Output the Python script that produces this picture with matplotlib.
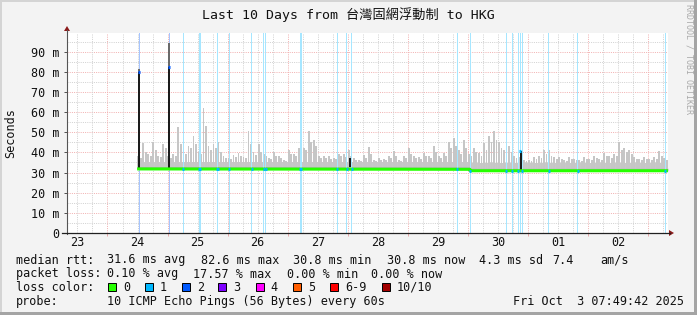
import numpy as np
import matplotlib
matplotlib.use("Agg")
import matplotlib.pyplot as plt
from matplotlib.patches import Rectangle, Polygon
from matplotlib.lines import Line2D
from matplotlib.colors import to_rgb

plt.rcParams['font.family'] = ['DejaVu Sans Mono', 'Noto Sans CJK TC']

# time axis: hours after Tue Sep 23 07:49:42 2025 (10 day window)
day_labels = ["23", "24", "25", "26", "27", "28", "29", "30", "01", "02"]
noon_first = 4.17        # Sep 23 12:00
midnight_first = 16.17   # Sep 24 00:00
window_hours = 240
y_top = 99.5

y_ticks = [0, 10, 20, 30, 40, 50, 60, 70, 80, 90]
y_labels = ["0", "10 m", "20 m", "30 m", "40 m", "50 m", "60 m", "70 m", "80 m", "90 m"]

# smoke per 2 hour bin starting at hour 28, ms: highest and second highest spike
smoke_start = 28.0
smoke_peak = [38, 44.6, 39, 45, 38, 44, 38, 39, 52.8, 40, 43, 47.9, 40, 62, 43, 44,
              45, 38, 37, 38.5, 39.6, 37.5, 50.4, 40, 44, 39, 37, 40, 38, 36, 41,
              39, 42, 42, 50.4, 46, 38, 38, 38, 37, 39, 39, 41, 37, 36, 38.5,
              42.5, 36, 37, 36.5, 38, 40.5, 36, 38, 42, 38, 37.5, 39.6, 38, 43, 38,
              39.6, 45, 47, 41, 46, 39, 42, 39.6, 44.6, 48, 50.4, 45.4, 41, 43, 38,
              37.5, 36, 36, 37.5, 38, 41, 41, 37.5, 37.5, 36, 37.5, 36.5, 36, 37.5,
              36.5, 38, 36.5, 39.6, 38, 39, 45.4, 42, 41, 37.5, 36.5, 37.5, 36.5,
              37.5, 40.5, 37]
smoke_second = [37, 40, 38, 41, 37.5, 42, 37, 38, 44, 39, 42, 44, 39, 53, 41, 42,
                40, 37, 36.5, 37.5, 38, 37, 44, 38.5, 40, 38, 36.5, 38, 37, 35.5,
                39, 38, 40, 41, 45, 43, 37, 37, 36.5, 36.5, 38, 37.5, 38, 36, 35.5, 37,
                39, 35.5, 36, 36, 37, 38, 35.5, 37, 39, 37, 36.5, 38, 37, 40, 37,
                38, 42, 43, 39, 42, 38, 40, 38, 41, 45, 46, 42, 39, 40, 37,
                36.5, 35.5, 35.5, 36.5, 37, 39, 38, 36.5, 36.5, 35.5, 36.5, 36, 35.5,
                36.5, 36, 37, 36, 38, 37, 38, 41, 40, 39, 36.5, 36, 36.5, 36, 36.5,
                38, 36]
# solid part of the smoke, per day (Sep 24 .. Oct 3), ms
smoke_body = [35.2, 35.2, 35.0, 35.0, 35.0, 35.0, 34.5, 34.5, 34.5, 34.5]

# median rtt, ms
median_hours = [28, 100, 160.9, 161.1, 240]
median_ms = [31.8, 31.7, 31.6, 30.9, 30.9]

# lost pings (of 10)
loss_hours = [28.9, 40.85, 46.45, 52.9, 53.3, 60.1, 64.8, 73.7, 78.5, 79.3, 93.05,
              93.45, 108.0, 111.8, 113.7, 155.9, 161.1, 175.5, 177.8, 180.2, 180.9,
              181.8, 192.4, 204.0, 238.9]
loss_count = [2, 2, 1, 1, 1, 1, 1, 1, 1, 1, 1, 1, 1, 1, 1, 1, 1, 1, 1, 1, 1, 1, 1, 1, 1]

# dense dark smoke columns
dark_hours = [28.65, 40.65, 113.1, 181.1]
dark_low = [31.5, 31.5, 33.0, 31.0]
dark_high = [80.0, 82.6, 37.0, 40.5]
dark_top = [81.5, 94.5, 37.0, 40.5]

loss_labels = ["0", "1", "2", "3", "4", "5", "6-9", "10/10"]
loss_colors = ["#26ff00", "#00b8ff", "#0059ff", "#7e00ff", "#ff00ff",
               "#ff5e00", "#ff0000", "#a10000"]

stats_rtt = ["median rtt:", "31.6 ms avg", "82.6 ms max", "30.8 ms min",
             "30.8 ms now", "4.3 ms sd", "7.4", "am/s"]
stats_loss = ["packet loss:", "0.10 % avg", "17.57 % max", "0.00 % min", "0.00 % now"]

W, H = 697, 315


def fx(x):
    return x / W


def fy(y):
    return 1 - y / H


def light(c, a=0.35):
    r = np.array(to_rgb(c))
    return tuple(a * r + (1 - a))


fig = plt.figure(figsize=(W / 100, H / 100), dpi=100)
fig.patch.set_facecolor('#f3f3f3')
ax = fig.add_axes([fx(67), fy(233), 601 / W, 200.5 / H])
ax.set_facecolor('white')
ax.set_xlim(0, window_hours)
ax.set_ylim(0, y_top)
for s in ax.spines.values():
    s.set_visible(False)

# grid
dots = (0, (1, 1.2))
for v in np.arange(5, 100, 5):
    c = '#f2b2b2' if v % 10 == 0 else '#d2d2d2'
    ax.axhline(v, color=c, lw=0.72, ls=dots, zorder=0)
for h in np.arange(midnight_first - 12, window_hours, 6):
    c = '#f2b2b2' if round(h - midnight_first) % 24 == 0 else '#d2d2d2'
    ax.axvline(h, color=c, lw=0.72, ls=dots, zorder=0)

# smoke
peak = np.array(smoke_peak)
second = np.array(smoke_second)
centers = smoke_start + 1 + 2 * np.arange(len(peak))
med = np.interp(centers, median_hours, median_ms)
day_idx = ((centers - midnight_first) // 24).astype(int)
body = np.minimum(np.array(smoke_body)[day_idx], second)
ax.bar(centers, body - med, bottom=med, width=2.0, color='#c8c8c8', lw=0, zorder=2)
ax.bar(centers - 0.5, peak - med, bottom=med, width=0.75, color='#c6c6c6', lw=0, zorder=2)
ax.bar(centers + 0.5, second - med, bottom=med, width=0.75, color='#c6c6c6', lw=0, zorder=2)
ax.fill_between(median_hours, median_ms, np.array(median_ms) + 1.2,
                color='#b4b4b4', lw=0, zorder=2.5)

# loss bars
ax.bar(loss_hours, y_top, width=0.4, color=[light(loss_colors[c]) for c in loss_count],
       lw=0, zorder=3)

# dark columns
dh = np.array(dark_high)
ax.bar(dark_hours, dh - np.array(dark_low), bottom=dark_low, width=0.8,
       color='#1c1c1c', lw=0, zorder=3.8)
ax.bar(dark_hours, np.array(dark_top) - dh, bottom=dh, width=0.8,
       color='#6a6a6a', lw=0, zorder=3.8)

# median line coloured by loss
ax.plot(median_hours, median_ms, color=loss_colors[0], lw=2.2,
        solid_capstyle='butt', zorder=4)
for h, c in zip(loss_hours, loss_count):
    y = np.interp(h, median_hours, median_ms)
    for dhr, top in zip(dark_hours, dark_high):
        if abs(dhr - h) < 0.5:
            y = top
    ax.plot([h - 0.4, h + 0.4], [y, y], color=loss_colors[c], lw=2.2,
            solid_capstyle='butt', zorder=4.5)

# ticks
ax.set_yticks(y_ticks, y_labels)
ax.tick_params(axis='y', length=2.2, width=0.7, color='#505050', pad=3,
               labelsize=8.5, labelcolor='#111111')
ax.set_xticks([noon_first + 24 * k for k in range(len(day_labels))], day_labels)
ax.set_xticks(np.arange(midnight_first, window_hours, 24), minor=True)
ax.tick_params(axis='x', which='major', length=0, pad=2.5, labelsize=8.5,
               labelcolor='#111111')
ax.tick_params(axis='x', which='minor', length=2.2, width=0.7, color='#e8a8a8')

# axis lines and arrows
fig.add_artist(Line2D([fx(67), fx(67)], [fy(233.5), fy(30)], transform=fig.transFigure,
                      color='#555555', lw=0.8))
fig.add_artist(Line2D([fx(62), fx(670)], [fy(233), fy(233)], transform=fig.transFigure,
                      color='#202020', lw=0.9))
fig.add_artist(Polygon([(fx(64), fy(31)), (fx(70), fy(31)), (fx(67), fy(26))],
                       closed=True, transform=fig.transFigure, color='#8b1a1a', lw=0))
fig.add_artist(Polygon([(fx(669), fy(230)), (fx(669), fy(236)), (fx(674), fy(233))],
                       closed=True, transform=fig.transFigure, color='#8b1a1a', lw=0))

# frame
fig.add_artist(Rectangle((0, fy(2)), 1, 2 / H, transform=fig.transFigure,
                         color='#d4d4d4', lw=0))
fig.add_artist(Rectangle((0, 0), 2 / W, 1, transform=fig.transFigure,
                         color='#d4d4d4', lw=0))
fig.add_artist(Rectangle((0, 0), 1, 3 / H, transform=fig.transFigure,
                         color='#a4a4a4', lw=0))
fig.add_artist(Rectangle((fx(694), 0), 3 / W, 1, transform=fig.transFigure,
                         color='#a4a4a4', lw=0))

# texts
fig.text(fx(348.5), fy(15), "Last 10 Days from 台灣固網浮動制 to HKG",
         ha='center', va='center', fontsize=9.5, color='#111111')
fig.text(fx(10.5), fy(133), "Seconds", rotation=90, ha='center', va='center',
         fontsize=8.5, color='#111111')
fig.text(fx(688.5), fy(59), "RRDTOOL / TOBI OETIKER", rotation=270,
         ha='center', va='center', fontsize=6, color='#aaaaaa')

for s, x in zip(stats_rtt, [16, 107.3, 200.7, 293.3, 387.3, 479, 552, 600]):
    fig.text(fx(x), fy(263.5), s, ha='left', va='baseline', fontsize=8.5,
             color='#111111')
for s, x in zip(stats_loss, [16, 107.3, 193.5, 287, 371]):
    fig.text(fx(x), fy(277.5), s, ha='left', va='baseline', fontsize=8.5,
             color='#111111')

fig.text(fx(16), fy(291), "loss color:", ha='left', va='baseline', fontsize=8.5,
         color='#111111')
box_x = [108.3, 145, 181.7, 218.3, 255.7, 292.7, 330, 381.7]
for lab, col, x in zip(loss_labels, loss_colors, box_x):
    fig.add_artist(Rectangle((fx(x), fy(291)), 8 / W, 8 / H, transform=fig.transFigure,
                             facecolor=col, edgecolor='black', lw=0.7))
    fig.text(fx(x + 15), fy(291), lab, ha='left', va='baseline', fontsize=8.5,
             color='#111111')

fig.text(fx(16), fy(305), "probe:", ha='left', va='baseline', fontsize=8.5,
         color='#111111')
fig.text(fx(107.3), fy(305), "10 ICMP Echo Pings (56 Bytes) every 60s", ha='left',
         va='baseline', fontsize=8.5, color='#111111')
fig.text(fx(684), fy(305), "Fri Oct  3 07:49:42 2025", ha='right', va='baseline',
         fontsize=8.5, color='#111111')

fig.savefig("out.png", dpi=100, facecolor=fig.get_facecolor())
